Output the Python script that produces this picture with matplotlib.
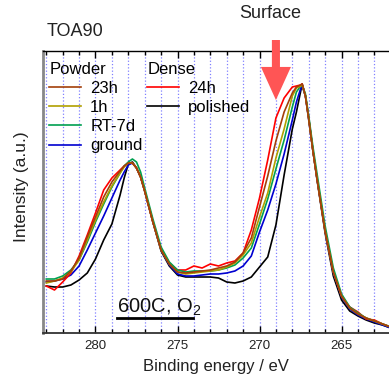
import matplotlib
matplotlib.use('Agg')
import matplotlib.pyplot as plt
from matplotlib.ticker import MultipleLocator

plt.rcParams['font.family'] = ['Liberation Sans', 'DejaVu Sans']
plt.rcParams['mathtext.default'] = 'regular'

# binding energy grid (eV) and intensities (a.u.)
energy = [283.0, 282.5, 282.0, 281.5, 281.0, 280.5, 280.0, 279.5, 279.0, 278.5,
          278.25, 278.0, 277.75, 277.5, 277.25, 277.0, 276.5, 276.0, 275.5, 275.0,
          274.5, 274.0, 273.5, 273.0, 272.5, 272.0, 271.5, 271.0, 270.5, 270.0,
          269.5, 269.0, 268.5, 268.0, 267.75, 267.5, 267.4, 267.2, 267.0, 266.75,
          266.5, 266.0, 265.5, 265.0, 264.5, 264.0, 263.5, 263.0, 262.5, 262.0]

# Powder
i_23h = [52, 52, 54, 62, 75, 96, 116, 136, 151, 162, 167, 170, 170, 165, 156, 142, 111, 83, 69, 61,
         60, 61, 62, 63, 65, 67, 71, 80, 95, 126, 157, 192, 221, 240, 246, 248, 249, 237, 214, 183,
         155, 102, 61, 37, 25, 19, 15, 12, 9, 6]
i_1h = [50, 52, 55, 61, 73, 93, 113, 131, 147, 160, 166, 170, 170, 165, 156, 142, 111, 83, 69, 61,
        59, 60, 61, 62, 63, 66, 70, 78, 90, 116, 140, 175, 204, 237, 245, 247, 248, 237, 214, 183,
        155, 102, 61, 37, 25, 19, 15, 12, 9, 6]
i_rt7d = [54, 54, 57, 63, 73, 91, 111, 129, 146, 160, 167, 171, 174, 171, 161, 145, 114, 86, 71, 63,
          61, 62, 62, 62, 63, 65, 68, 75, 85, 109, 134, 164, 193, 226, 241, 247, 248, 239, 217, 187,
          160, 107, 65, 39, 26, 20, 15, 12, 9, 6]
i_ground = [51, 52, 54, 58, 67, 83, 100, 117, 135, 153, 161, 168, 170, 165, 156, 142, 111, 83, 68, 59,
            57, 57, 58, 59, 59, 60, 62, 67, 77, 101, 123, 149, 179, 213, 231, 244, 247, 237, 213, 183,
            155, 102, 60, 36, 24, 18, 14, 11, 8, 5]
# Dense
i_24h = [47, 43, 51, 60, 77, 98, 120, 143, 155, 163, 167, 170, 170, 165, 156, 142, 111, 84, 70, 63,
         63, 67, 65, 69, 67, 70, 72, 80, 103, 135, 173, 215, 235, 246, 247, 248, 249, 237, 215, 183,
         155, 102, 61, 37, 26, 21, 14, 13, 9, 6]
i_polished = [47, 46, 46, 48, 53, 60, 74, 93, 109, 138, 155, 169, 171, 165, 156, 142, 111, 82, 67, 58,
              56, 56, 56, 56, 55, 51, 50, 52, 56, 66, 76, 108, 158, 204, 221, 241, 249, 237, 215, 183,
              154, 100, 57, 33, 22, 17, 13, 10, 8, 5]

fig = plt.figure(figsize=(3.89, 3.78), dpi=100)
ax = fig.add_axes([43/389, 45/378, 352/389, 282/378])

lw = 1.2
l_pol, = ax.plot(energy, i_polished, color='black', lw=lw, label='polished')
l_gr, = ax.plot(energy, i_ground, color='#0000d0', lw=lw, label='ground')
l_24, = ax.plot(energy, i_24h, color='#ff0000', lw=lw, label='24h')
l_rt, = ax.plot(energy, i_rt7d, color='#00a050', lw=lw, label='RT-7d')
l_1h, = ax.plot(energy, i_1h, color='#b0a000', lw=lw, label='1h')
l_23, = ax.plot(energy, i_23h, color='#a33f0a', lw=lw, label='23h')

ax.set_xlim(283.2, 261.74)
ax.set_ylim(0, 282)
ax.set_yticks([])
ax.xaxis.set_major_locator(MultipleLocator(5))
ax.xaxis.set_minor_locator(MultipleLocator(1))
ax.tick_params(axis='x', which='both', direction='in', top=True, bottom=True,
               labelsize=9.5, labelcolor='#222222', pad=5)
ax.tick_params(axis='x', which='major', length=5, width=1)
ax.tick_params(axis='x', which='minor', length=3, width=1)
ax.set_axisbelow(True)
ax.grid(True, which='both', axis='x', color='#8080ff', linestyle=':', lw=0.9)

ax.spines['left'].set_color('#888888')
ax.spines['left'].set_linewidth(2)
ax.spines['bottom'].set_color('#333333')
ax.spines['bottom'].set_linewidth(1.3)
ax.spines['top'].set_linewidth(1)
ax.spines['right'].set_visible(False)

ax.set_xlabel('Binding energy / eV', fontsize=12, color='#222222')
ax.xaxis.set_label_coords((216-43)/352, -(366-333)/282)
ax.xaxis.label.set_va('center')
ax.set_ylabel('Intensity (a.u.)', fontsize=12.5, color='#222222')
ax.yaxis.set_label_coords((22-43)/352, 0.52)
ax.yaxis.label.set_va('center')

leg_kw = dict(loc='upper left', frameon=False, fontsize=12, title_fontsize=12,
              handlelength=1.9, handletextpad=0.55, labelspacing=0.25,
              borderpad=0, borderaxespad=0, alignment='left')
leg1 = ax.legend(handles=[l_23, l_1h, l_rt, l_gr], title='Powder',
                 bbox_to_anchor=(0.018, 0.962), **leg_kw)
ax.add_artist(leg1)
ax.legend(handles=[l_24, l_pol], title='Dense',
          bbox_to_anchor=(0.296, 0.962), **leg_kw)

# surface arrow
ax.annotate('', xy=(269.0, 233), xytext=(269.0, 293), annotation_clip=False,
            arrowprops=dict(arrowstyle='simple,head_length=23.8,head_width=21.6,tail_width=5.8',
                            mutation_scale=1, color='#ff5555', lw=0, shrinkA=0, shrinkB=0))
fig.text(270/389, 1 - 13/378, 'Surface', ha='center', va='center', fontsize=13, color='#222222')
fig.text(47/389, 1 - 31/378, 'TOA90', ha='left', va='center', fontsize=13, color='#222222')

ax.text(74/352, 20/282, '600C, O$_2$', transform=ax.transAxes, ha='left',
        va='baseline', fontsize=14.5, color='#111111')
ax.plot([74/352, 150/352], [15/282, 15/282], transform=ax.transAxes, color='black', lw=2)

fig.savefig('out.png', dpi=100)
